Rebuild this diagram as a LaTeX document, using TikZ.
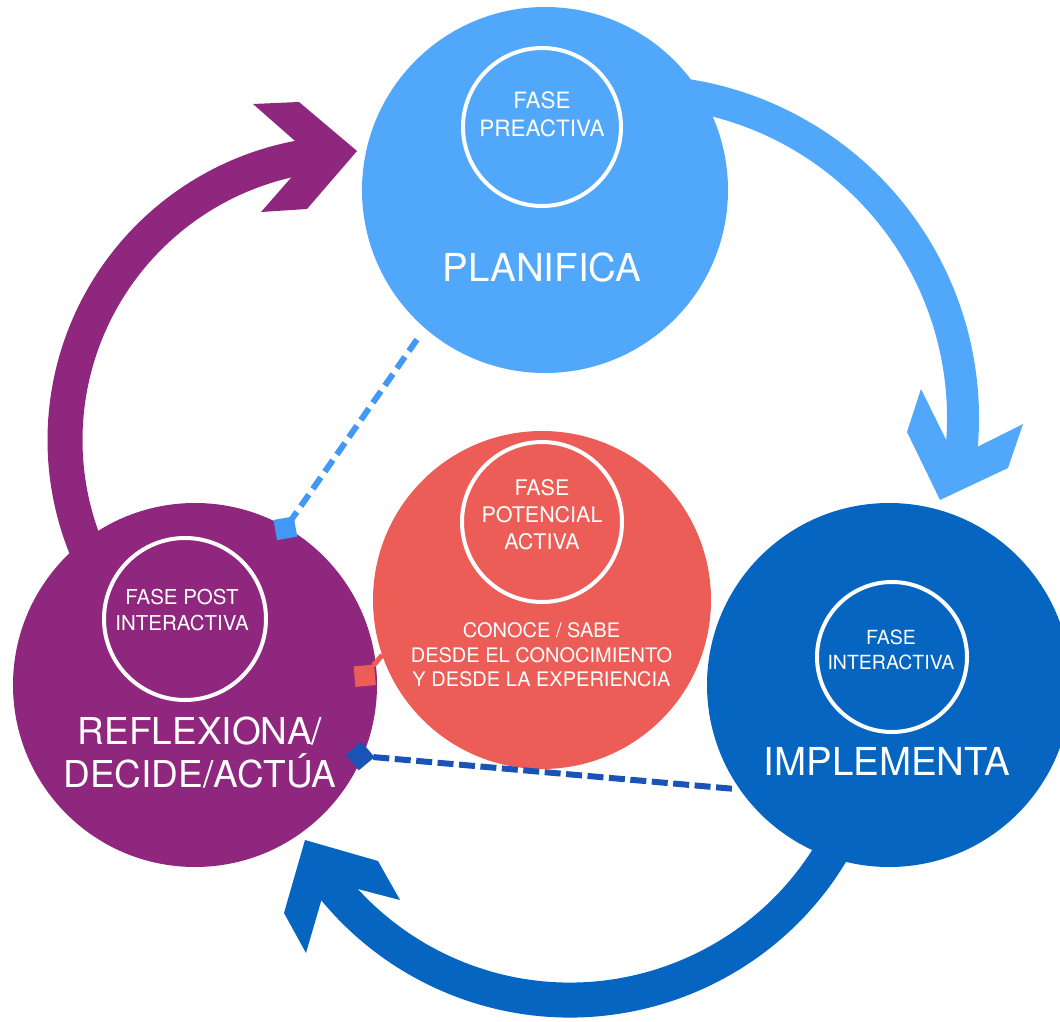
\documentclass[tikz,border=0pt]{standalone}
\usepackage{fontspec}
\setmainfont{TeX Gyre Heros}
\usetikzlibrary{arrows.meta}

\definecolor{planblue}{HTML}{51A7F9}
\definecolor{implblue}{HTML}{0565C0}
\definecolor{reflpurple}{HTML}{8E277D}
\definecolor{knowred}{HTML}{EC5D57}
\definecolor{dashlight}{HTML}{4398F5}
\definecolor{dashdark}{HTML}{1B52B6}

\begin{document}
\begin{tikzpicture}[x=1pt,y=1pt,
    phase/.style={circle,minimum size=#1,inner sep=0pt,outer sep=0pt},
    ring/.style={circle,draw=white,line width=4pt,minimum size=#1,inner sep=0pt,outer sep=0pt},
    label/.style={text=white,align=center,inner sep=0pt},
    link/.style={line width=6pt,dash pattern=on 14pt off 7pt,-{Diamond[length=29pt,width=29pt]}}]
  \useasboundingbox (0,0) rectangle (1060,-1022);
  % cycle arrows, drawn behind the phases
  \draw[planblue, line width=32pt] (636,-418) ++(95:327) arc[start angle=95, end angle=-8, radius=327];
  \fill[planblue] (921,-389) -- (955,-458) -- (1023,-424) -- (1008,-468) -- (940,-500) -- (907,-432) -- cycle;
  \draw[implblue, line width=35pt] (570,-695) ++(-25:305) arc[start angle=-25, end angle=-145, radius=305];
  \fill[implblue] (305,-840) -- (378,-861) -- (400,-900) -- (327,-881) -- (306,-953) -- (284,-913) -- cycle;
  \draw[reflpurple, line width=35pt] (352,-440) ++(205:287) arc[start angle=205, end angle=95, radius=287];
  \fill[reflpurple] (253,-104) -- (311,-155) -- (261,-212) -- (307,-209) -- (357,-151) -- (299,-102) -- cycle;
  % phases
  \node[phase=366pt, fill=planblue] (plan) at (545,-190) {};
  \node[phase=364pt, fill=implblue] (impl) at (889,-685) {};
  \node[phase=364pt, fill=reflpurple] (refl) at (195,-685) {};
  \node[phase=338pt, fill=knowred] (know) at (542,-600) {};
  \node[ring=158pt] (plan_in) at (542,-127) {};
  \node[ring=160pt] (know_in) at (542,-522) {};
  \node[ring=162pt] (refl_in) at (185,-619) {};
  \node[ring=150pt] (impl_in) at (892,-657) {};
  % labels
  \node[label, font=\fontsize{22.5}{28}\selectfont] (plan_ph) at (542,-114) {FASE\\PREACTIVA};
  \node[label, font=\fontsize{38.5}{43}\selectfont] (plan_t) at (542,-267) {PLANIFICA};
  \node[label, font=\fontsize{21.5}{27}\selectfont] (know_ph) at (542,-514.5) {FASE\\POTENCIAL\\ACTIVA};
  \node[label, font=\fontsize{20}{24.5}\selectfont] (know_t) at (541.5,-655) {CONOCE / SABE\\DESDE EL CONOCIMIENTO\\Y DESDE LA EXPERIENCIA};
  \node[label, font=\fontsize{20.5}{26}\selectfont] (refl_ph) at (182,-610) {FASE POST\\INTERACTIVA};
  \node[label, font=\fontsize{37}{43}\selectfont] (refl_t) at (200,-753) {REFLEXIONA/\\DECIDE/ACTÚA};
  \node[label, font=\fontsize{19.5}{25}\selectfont] (impl_ph) at (891,-650) {FASE\\INTERACTIVA};
  \node[label, font=\fontsize{38.5}{43}\selectfont] (impl_t) at (887,-761) {IMPLEMENTA};
  % dashed links
  \path (plan.229.6) edge[link, dashlight, shorten <=14pt, shorten >=-15.6pt] (refl.60.7);
  \path (impl.215.5) edge[link, dashdark, dash pattern=on 16pt off 5.5pt, shorten <=8pt, shorten >=-17pt] (refl.-23.5);
  \path (know.199.7) edge[link, knowred, line width=5pt, shorten >=-31.4pt] (refl.7.8);
\end{tikzpicture}
\end{document}
